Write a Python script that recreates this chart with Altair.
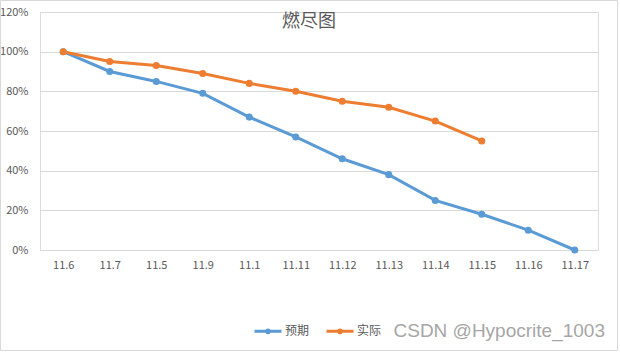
import altair as alt
import pandas as pd

categories = ["11.6", "11.7", "11.5", "11.9", "11.1", "11.11", "11.12", "11.13", "11.14", "11.15", "11.16", "11.17"]
expected = [1.00, 0.90, 0.85, 0.79, 0.67, 0.57, 0.46, 0.38, 0.25, 0.18, 0.10, 0.00]
actual = [1.00, 0.95, 0.93, 0.89, 0.84, 0.80, 0.75, 0.72, 0.65, 0.55, None, None]
series_names = ["预期", "实际"]
series_colors = ["#5B9BD5", "#ED7D31"]
y_ticks = [0, 0.2, 0.4, 0.6, 0.8, 1.0, 1.2]
title_text = "燃尽图"
watermark_text = "CSDN @Hypocrite_1003"

rows = []
for c, v in zip(categories, expected):
    rows.append({"date": c, "value": v, "series": series_names[0]})
for c, v in zip(categories, actual):
    if v is not None:
        rows.append({"date": c, "value": v, "series": series_names[1]})
df = pd.DataFrame(rows)

FONT = "Noto Sans CJK SC"
W, H = 558, 238

x = alt.X("date:N", sort=categories,
          axis=alt.Axis(title=None, labelAngle=0, ticks=False, domain=False, grid=False,
                        labelPadding=9, labelColor="#595959", labelFontSize=11, labelFont=FONT))
y = alt.Y("value:Q", scale=alt.Scale(domain=[0, 1.2]),
          axis=alt.Axis(title=None, format=".0%", values=y_ticks, ticks=False, domain=False,
                        gridColor="#d9d9d9", gridWidth=1, labelPadding=12, labelColor="#595959",
                        labelFontSize=11, labelFont=FONT))
color = alt.Color("series:N", sort=series_names,
                  scale=alt.Scale(domain=series_names, range=series_colors),
                  legend=alt.Legend(title=None, orient="none", direction="horizontal",
                                    legendX=213, legendY=304,
                                    symbolType="M-1,0H1M0.1,0A0.1,0.1 0 1,1 -0.1,0A0.1,0.1 0 1,1 0.1,0",
                                    symbolSize=729, symbolStrokeWidth=3,
                                    labelFont=FONT, labelFontSize=12, labelColor="#595959",
                                    labelOffset=2, columnPadding=10))

lines = alt.Chart(df).mark_line(strokeWidth=3).encode(x=x, y=y, color=color)
points = alt.Chart(df).mark_point(filled=True, size=50, opacity=1, shape="circle").encode(
    x=x, y=y, color=alt.Color("series:N", sort=series_names,
                              scale=alt.Scale(domain=series_names, range=series_colors), legend=None))

txt = pd.DataFrame({"title": [title_text], "wm": [watermark_text]})
title = alt.Chart(txt).mark_text(align="center", baseline="middle", fontSize=18, font=FONT,
                                 color="#595959").encode(
    text="title:N", x=alt.value(269), y=alt.value(10))
watermark = alt.Chart(txt).mark_text(align="right", baseline="middle", fontSize=19,
                                     font="Liberation Sans", color="#a6a6a6").encode(
    text="wm:N", x=alt.value(565), y=alt.value(319))

border = alt.Chart(txt).mark_rect(fill="transparent", stroke="#d9d9d9", strokeWidth=1).encode(
    x=alt.value(-39.5), x2=alt.value(577.5), y=alt.value(-11.5), y2=alt.value(338.5))

chart = alt.layer(border, lines, points, title, watermark).properties(
    width=W, height=H,
    autosize=alt.AutoSizeParams(type="none"),
    padding={"left": 40, "top": 12, "right": 22, "bottom": 102},
).configure_view(stroke=None).configure(background="white")

chart.save("out.html", embed_options={"renderer": "svg", "actions": False})
